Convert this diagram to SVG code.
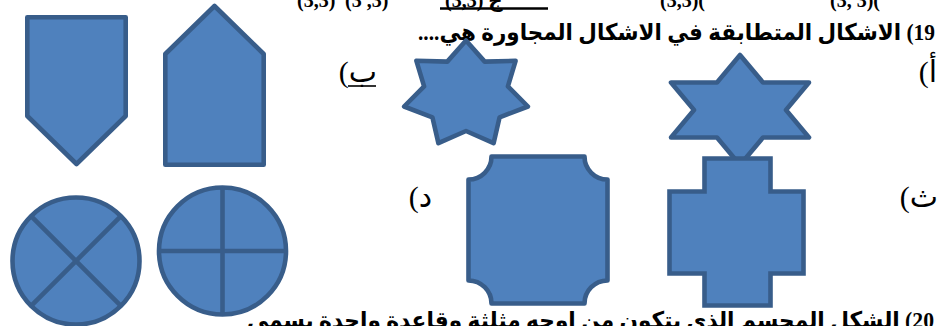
<svg xmlns="http://www.w3.org/2000/svg" width="946" height="326" viewBox="0 0 946 326">
<style>
.s{fill:#4F81BD;stroke:#385D8A;stroke-width:4.6;stroke-linejoin:round}
.m{stroke-linejoin:miter}
.ln{stroke:#385D8A;stroke-width:4.6;fill:none}
.t{font-family:"Liberation Serif","DejaVu Sans",serif;fill:#000}
.b{font-weight:bold}
</style>
<rect width="946" height="326" fill="#fff"/>
<g id="top-line" class="t b" font-size="20">
<text x="297" y="7">(3,3)</text>
<text x="345" y="7">(3 ,3)</text>
<text x="445" y="7">(3,3) ج</text>
<line x1="440" y1="8.5" x2="548" y2="8.5" stroke="#000" stroke-width="2.5"/>
<text x="660" y="7">(3,3)(</text>
<text x="830" y="7">(3, 3)(</text>
</g>
<g id="q19">
<text class="t b" x="935" y="40" font-size="23" direction="rtl" text-anchor="start" textLength="517" lengthAdjust="spacingAndGlyphs">19) الاشكال المتطابقة في الاشكال المجاورة هي....</text>
</g>
<g id="labels" class="t" font-size="30">
<text x="937" y="82" direction="rtl" text-anchor="start">أ)</text>
<text x="377" y="82" direction="rtl" text-anchor="start">ب)</text>
<line x1="348" y1="86" x2="376" y2="86" stroke="#000" stroke-width="1.6"/>
<text x="938" y="207" direction="rtl" text-anchor="start">ث)</text>
<text x="432" y="207" direction="rtl" text-anchor="start">د)</text>
</g>
<g id="pentagon-down"><polygon class="s" points="27.3,17.3 125.7,17.3 125.7,116 76.5,164 27.3,116"/></g>
<g id="pentagon-up"><polygon class="s" points="214.5,6 263.7,54 263.7,164.7 165.3,164.7 165.3,54"/></g>
<g id="circle-x">
<circle class="s" cx="76" cy="261" r="63.5"/>
<line class="ln" x1="31.1" y1="216.1" x2="120.9" y2="305.9"/>
<line class="ln" x1="120.9" y1="216.1" x2="31.1" y2="305.9"/>
</g>
<g id="circle-plus">
<circle class="s" cx="222.5" cy="251" r="63.5"/>
<line class="ln" x1="222.5" y1="187.5" x2="222.5" y2="314.5"/>
<line class="ln" x1="159" y1="251" x2="286" y2="251"/>
</g>
<g id="star7"><polygon class="s" points="466,40.5 484.7,61.6 515.6,60.8 507.9,86.4 527.9,106.5 499.6,117.3 493.6,143.2 466,131 438.4,143.2 432.4,117.3 404.1,106.5 424.1,86.4 416.4,60.8 447.3,61.6"/></g>
<g id="star6"><polygon class="s" points="740,55 763,82.5 809,82.5 786,110 809,137.5 763,137.5 740,165 717,137.5 671,137.5 694,110 671,82.5 717,82.5"/></g>
<g id="cross"><polygon class="s m" points="704.5,158.5 770.5,158.5 770.5,191.5 803.5,191.5 803.5,273.5 770.5,273.5 770.5,305.5 704.5,305.5 704.5,273.5 669.5,273.5 669.5,191.5 704.5,191.5"/></g>
<g id="plaque"><path class="s" d="M491.5,156.5 H584.5 A23,23 0 0 0 607.5,179.5 V280.5 A23,23 0 0 0 584.5,303.5 H491.5 A23,23 0 0 0 468.5,280.5 V179.5 A23,23 0 0 0 491.5,156.5 Z"/></g>
<g id="connectors"/>
<g id="q20">
<text class="t b" x="934" y="328" font-size="23" direction="rtl" text-anchor="start" textLength="687" lengthAdjust="spacingAndGlyphs">20) الشكل المجسم الذي يتكون من اوجه مثلثة وقاعدة واحدة يسمى</text>
</g>
</svg>
